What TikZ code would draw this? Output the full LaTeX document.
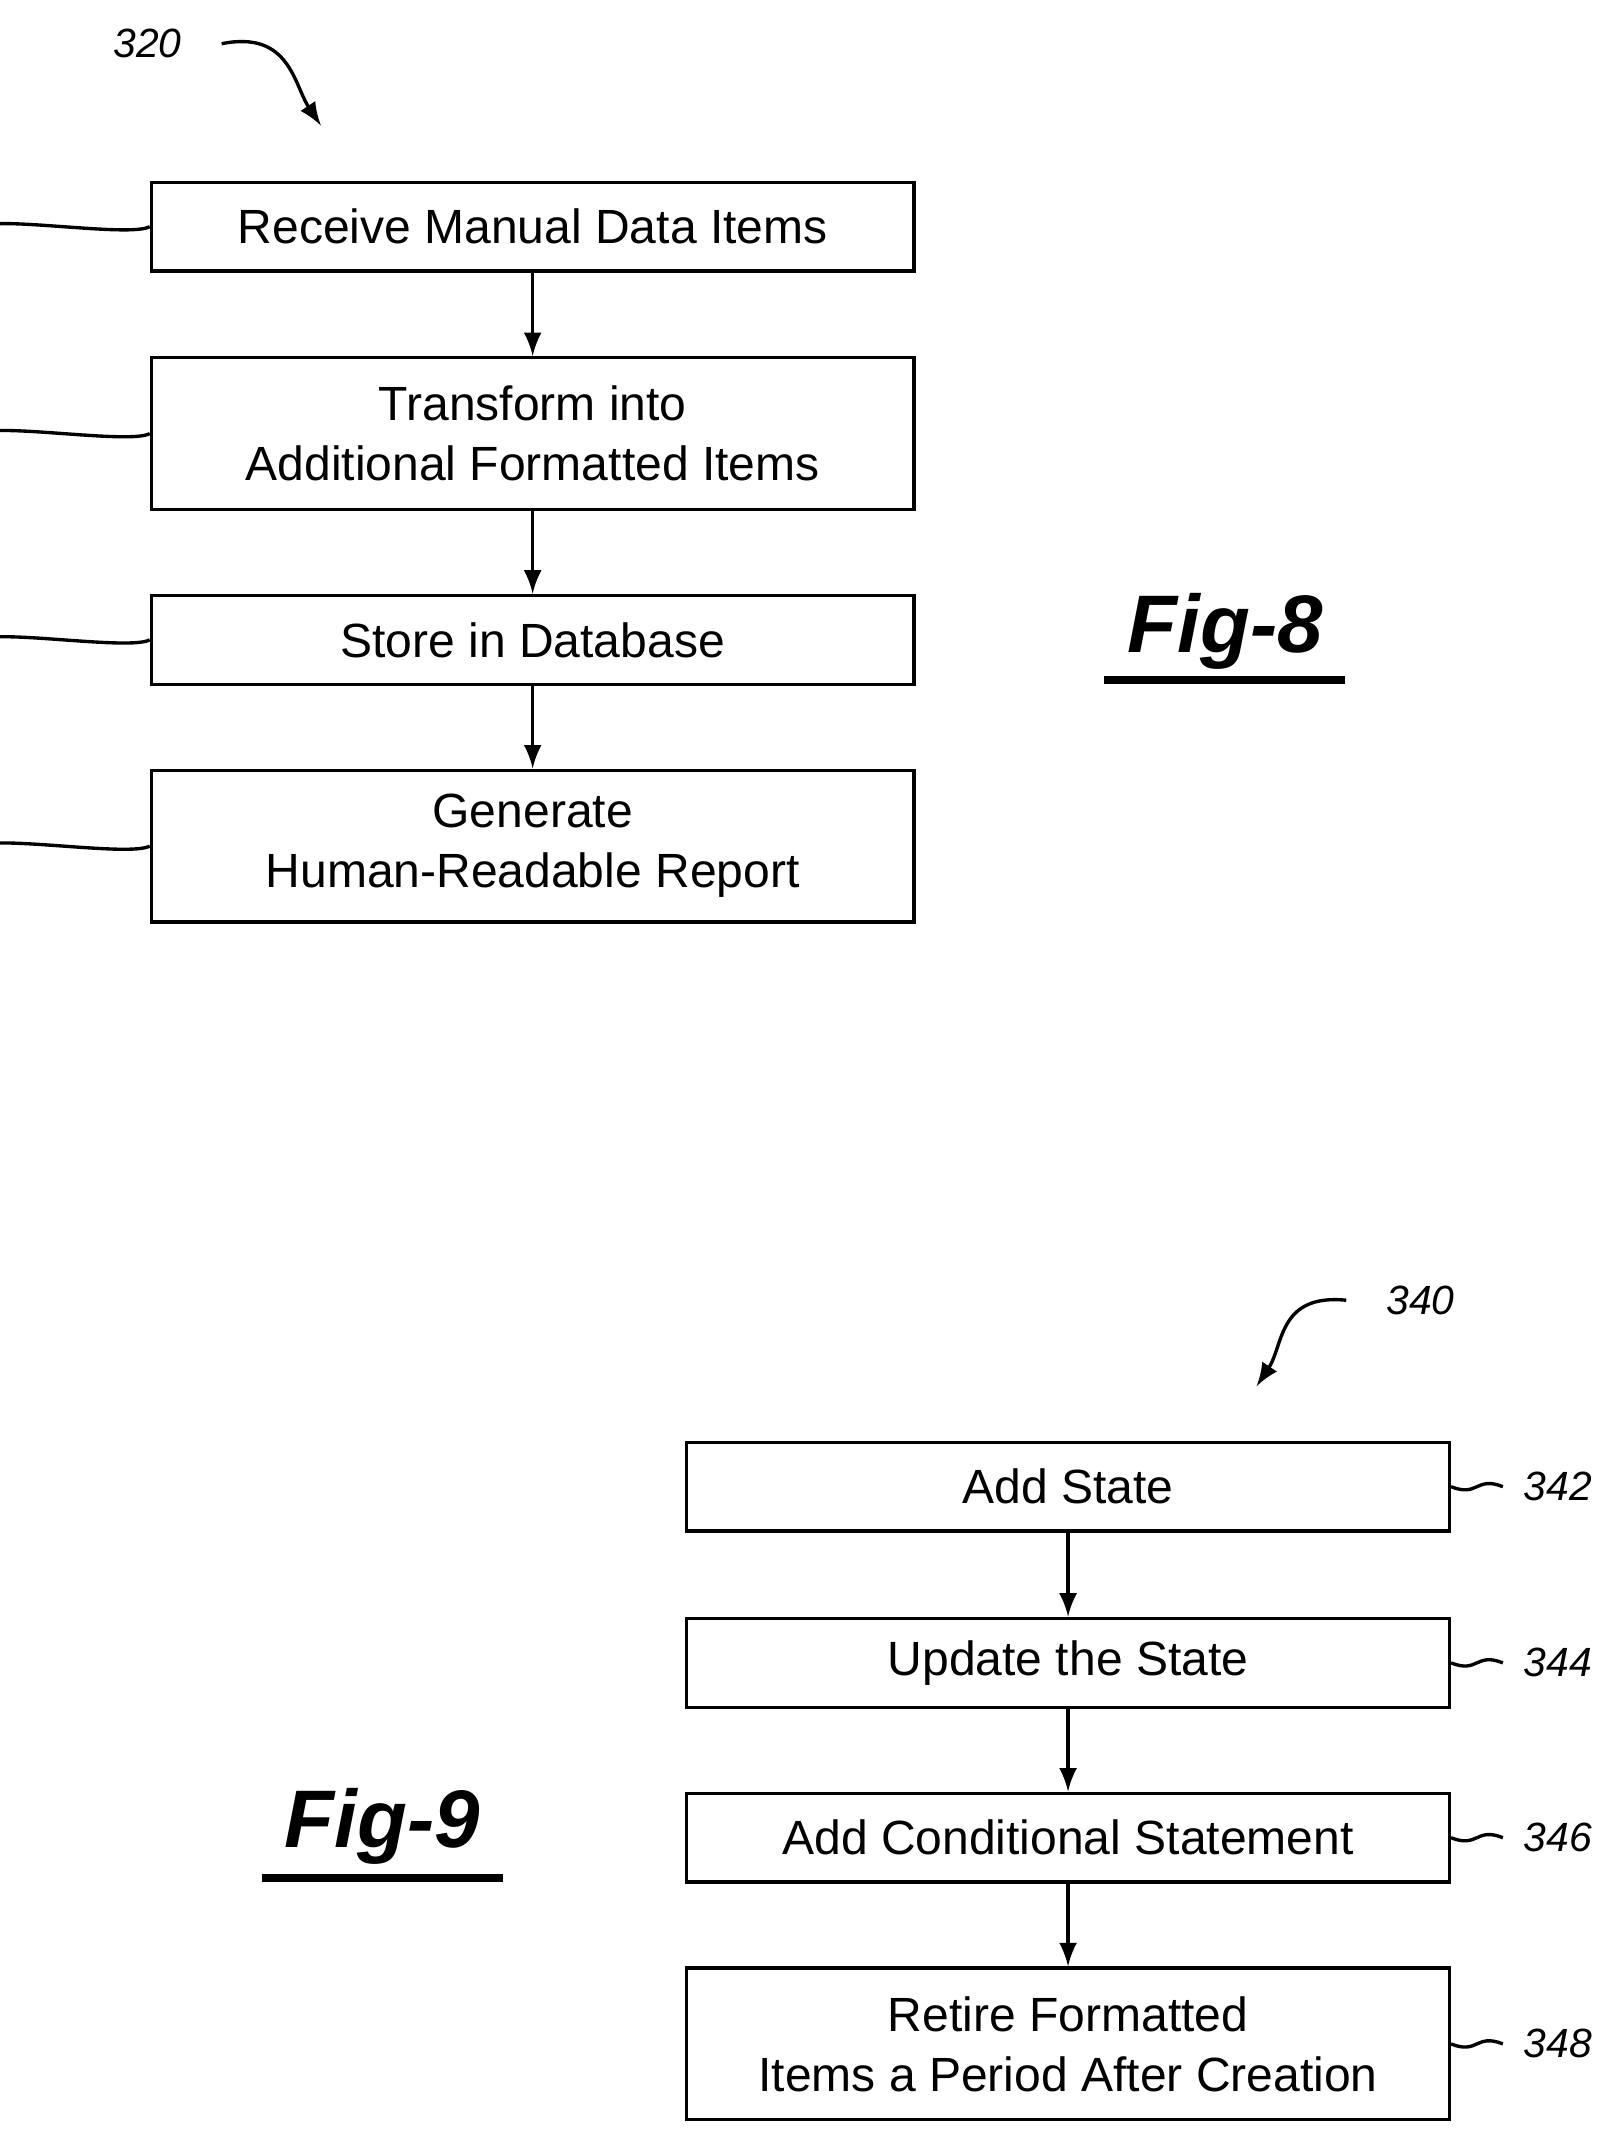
\documentclass[tikz,border=0pt]{standalone}
\usepackage{fontspec}
\setmainfont{Liberation Sans}
\begin{document}
\begin{tikzpicture}[x=0.01cm,y=-0.01cm,line width=0.7pt,
  every node/.style={font=\fontsize{10}{12.5}\selectfont},
  flowbox/.style={draw,rectangle,minimum width=5.58cm,align=center,inner sep=0pt},
  short/.style={flowbox,minimum height=0.65cm},
  tall/.style={flowbox,minimum height=1.11cm},
  ref/.style={font=\fontsize{8.5}{10}\selectfont\itshape,inner sep=0pt},
  fig/.style={font=\fontsize{17}{20}\selectfont\bfseries\itshape}]
  \useasboundingbox (0,0) rectangle (1170,1561);

  % Fig-8 flow
  \node[short] (recv) at (390,166) {Receive Manual Data Items};
  \node[tall] (trans) at (390,317.5) {Transform into\\Additional Formatted Items};
  \node[short] (store) at (390,468.5) {Store in Database};
  \node[tall] (gen) at (390,619.5) {Generate\\Human-Readable Report};
  \draw[-latex] (recv) -- (trans);
  \draw[-latex] (trans) -- (store);
  \draw[-latex] (store) -- (gen);

  % Fig-9 flow
  \node[short] (add) at (782,1088.5) {Add State};
  \node[short] (upd) at (782,1217.5) {Update the State};
  \node[short] (cond) at (782,1345.5) {Add Conditional Statement};
  \node[tall] (ret) at (782,1496.5) {Retire Formatted\\Items a Period After Creation};
  \draw[-latex] (add) -- (upd);
  \draw[-latex] (upd) -- (cond);
  \draw[-latex] (cond) -- (ret);

  % reference numerals, left side
  \foreach \n/\b in {322/recv,324/trans,326/store,328/gen}{
    \node[ref,anchor=east] (l\n) at (\b.west) [xshift=-1.3cm] {\n};
    \draw (l\n.east) ++(4,0) .. controls +(15,-8) and +(-15,8) .. (\b.west);
  }
  % reference numerals, right side
  \foreach \n/\b in {342/add,344/upd,346/cond,348/ret}{
    \node[ref,anchor=west] (r\n) at (\b.east) [xshift=0.52cm] {\n};
    \draw (\b.east) .. controls +(20,8) and +(-20,-8) .. ([xshift=-4]r\n.west);
  }

  % figure numerals
  \node[ref] (n320) at (108,32) {320};
  \coordinate (e320) at (235,92);
  \draw[-latex] ([xshift=8]n320.east) .. controls +(50,-10) and +(-20,-30) .. (e320);
  \node[ref] (n340) at (1040,952) {340};
  \coordinate (e340) at (920,1015);
  \draw[-latex] ([xshift=-8]n340.west) .. controls +(-50,-5) and +(20,-30) .. (e340);

  % figure captions
  \node[fig] (f8) at (897,462) {Fig-8};
  \draw[line width=1.8pt] (808,498) -- (985,498);
  \node[fig] (f9) at (280,1337) {Fig-9};
  \draw[line width=1.8pt] (192,1375) -- (368,1375);
\end{tikzpicture}
\end{document}
